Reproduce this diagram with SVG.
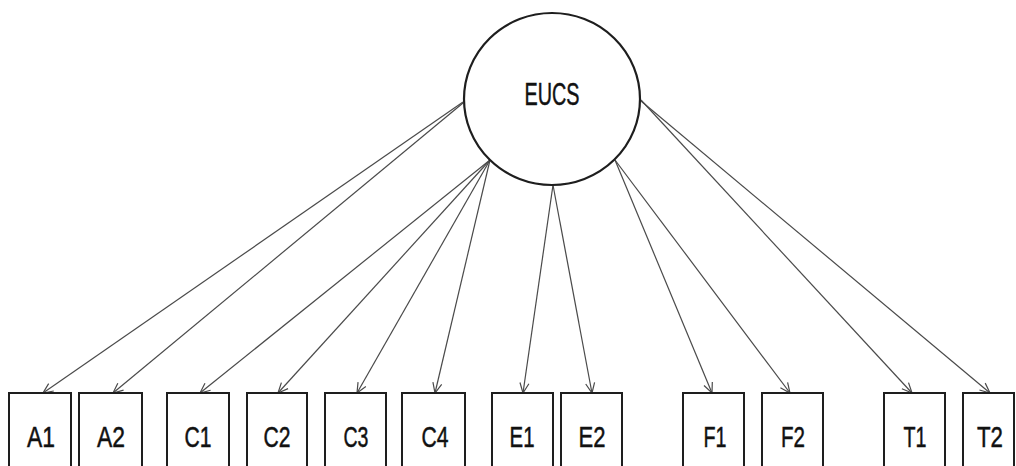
<svg xmlns="http://www.w3.org/2000/svg" width="1016" height="466" viewBox="0 0 1016 466">
  <style>
    .bg { fill: #ffffff; }
    .latent { fill: #ffffff; stroke: #1e1e1e; stroke-width: 2.2; }
    .item { fill: #ffffff; stroke: #1e1e1e; stroke-width: 2; }
    .lbl { font-family: "Liberation Sans", Arial, sans-serif; font-size: 30px; fill: #111111; stroke: #111111; stroke-width: 0.5; text-anchor: middle; }
    .big { font-size: 32px; }
    .edge { stroke: #4a4a4a; stroke-width: 1.2; fill: none; marker-end: url(#arrow); }
  </style>
  <defs>
    <marker id="arrow" markerUnits="userSpaceOnUse" markerWidth="12" markerHeight="12" refX="11" refY="6" orient="auto">
      <path d="M1,1.5 L11,6 L1,10.5" fill="none" stroke="#4a4a4a" stroke-width="1.2"/>
    </marker>
  </defs>
  <rect class="bg" x="0" y="0" width="1016" height="466"/>

  <!-- loadings from the latent factor to each indicator -->
  <g id="connectors">
    <line class="edge" x1="463" y1="102" x2="43" y2="393"/>
    <line class="edge" x1="463" y1="103" x2="113" y2="393"/>
    <line class="edge" x1="490" y1="160" x2="200" y2="393"/>
    <line class="edge" x1="490" y1="160" x2="278" y2="393"/>
    <line class="edge" x1="490" y1="160" x2="357" y2="393"/>
    <line class="edge" x1="490" y1="160" x2="435" y2="393"/>
    <line class="edge" x1="553" y1="185" x2="523" y2="393"/>
    <line class="edge" x1="553" y1="185" x2="592" y2="393"/>
    <line class="edge" x1="615" y1="160" x2="712" y2="393"/>
    <line class="edge" x1="615" y1="160" x2="790" y2="393"/>
    <line class="edge" x1="641" y1="100" x2="912" y2="393"/>
    <line class="edge" x1="641" y1="101" x2="990" y2="393"/>
  </g>

  <g id="EUCS">
    <ellipse class="latent" cx="552" cy="99" rx="88" ry="86"/>
    <text class="lbl big" x="552" y="105" textLength="55" lengthAdjust="spacingAndGlyphs">EUCS</text>
  </g>

  <g id="A1"><rect class="item" x="9" y="393" width="62" height="90"/><text class="lbl" x="41" y="447" textLength="28" lengthAdjust="spacingAndGlyphs">A1</text></g>
  <g id="A2"><rect class="item" x="79" y="393" width="63" height="90"/><text class="lbl" x="111" y="447" textLength="28" lengthAdjust="spacingAndGlyphs">A2</text></g>
  <g id="C1"><rect class="item" x="167" y="393" width="62" height="90"/><text class="lbl" x="198" y="447" textLength="27" lengthAdjust="spacingAndGlyphs">C1</text></g>
  <g id="C2"><rect class="item" x="247" y="393" width="60" height="90"/><text class="lbl" x="277" y="447" textLength="27" lengthAdjust="spacingAndGlyphs">C2</text></g>
  <g id="C3"><rect class="item" x="325" y="393" width="61" height="90"/><text class="lbl" x="356" y="447" textLength="25" lengthAdjust="spacingAndGlyphs">C3</text></g>
  <g id="C4"><rect class="item" x="402" y="393" width="63" height="90"/><text class="lbl" x="435" y="447" textLength="27" lengthAdjust="spacingAndGlyphs">C4</text></g>
  <g id="E1"><rect class="item" x="492" y="393" width="61" height="90"/><text class="lbl" x="522" y="447" textLength="25" lengthAdjust="spacingAndGlyphs">E1</text></g>
  <g id="E2"><rect class="item" x="561" y="393" width="61" height="90"/><text class="lbl" x="592" y="447" textLength="27" lengthAdjust="spacingAndGlyphs">E2</text></g>
  <g id="F1"><rect class="item" x="683" y="393" width="61" height="90"/><text class="lbl" x="715" y="447" textLength="23" lengthAdjust="spacingAndGlyphs">F1</text></g>
  <g id="F2"><rect class="item" x="762" y="393" width="61" height="90"/><text class="lbl" x="793" y="447" textLength="24" lengthAdjust="spacingAndGlyphs">F2</text></g>
  <g id="T1"><rect class="item" x="884" y="393" width="61" height="90"/><text class="lbl" x="915" y="447" textLength="23" lengthAdjust="spacingAndGlyphs">T1</text></g>
  <g id="T2"><rect class="item" x="963" y="393" width="51" height="90"/><text class="lbl" x="990" y="447" textLength="26" lengthAdjust="spacingAndGlyphs">T2</text></g>
</svg>
